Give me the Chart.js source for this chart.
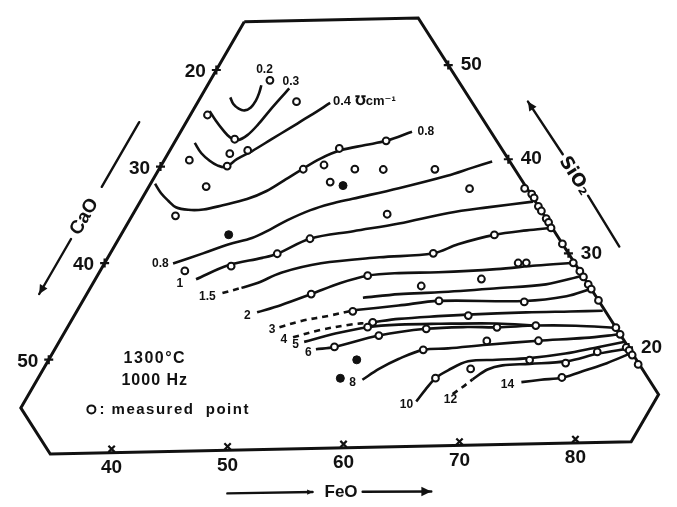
<!DOCTYPE html>
<html>
<head>
<meta charset="utf-8">
<script src="https://cdn.jsdelivr.net/npm/chart.js@4.4.1/dist/chart.umd.min.js"></script>
<style>
  html, body { margin: 0; padding: 0; background: #fff; }
</style>
</head>
<body>
<canvas id="chart" width="677" height="507"></canvas>
<script>
// CaO-SiO2-FeO section, 1300 C, 1000 Hz. Every composition is [FeO, SiO2] in wt%.

// measured points
const measuredOpen = [
  [35.2, 48.8], [38.6, 46.5], [31.5, 45.3], [35.1, 42.7], [35.4, 41.2], [36.8, 41.5], [35.8, 39.9],
  [32.2, 40.6], [35.0, 37.8], [33.8, 34.8], [42.6, 39.4], [44.2, 39.8], [47.1, 39.3], [49.6, 39.2],
  [54.1, 39.1], [44.7, 41.5], [48.4, 42.2], [45.6, 38.0], [52.2, 34.5], [37.4, 29.0], [41.2, 29.4],
  [44.6, 30.6], [46.7, 32.1], [58.2, 30.3], [53.6, 28.1], [58.8, 26.9], [49.6, 26.3], [61.1, 25.3],
  [54.1, 24.4], [56.4, 23.2], [56.2, 22.7], [57.6, 21.8], [61.4, 22.4], [54.3, 20.7], [62.2, 20.2],
  [64.7, 17.2], [58.1, 37.0], [62.6, 32.1], [66.1, 29.1], [66.8, 29.1], [63.7, 27.5], [68.6, 25.0],
  [64.4, 23.7], [67.5, 22.4], [70.8, 22.5], [67.3, 21.0], [71.8, 20.9], [72.0, 18.9], [75.3, 18.5],
  [77.5, 19.6], [67.3, 18.1], [75.7, 17.0],
  // along the FeO-SiO2 side
  [62.9, 36.9], [63.8, 36.3], [64.2, 35.9], [65.0, 35.0], [65.5, 34.5], [66.3, 33.7], [66.7, 33.3],
  [67.2, 32.7], [69.0, 31.0], [70.9, 29.0], [71.9, 28.1], [72.5, 27.5], [73.3, 26.7], [73.8, 26.2],
  [75.0, 25.0], [77.9, 22.1], [78.6, 21.4], [79.8, 20.0], [80.2, 19.7], [80.7, 19.2], [81.7, 18.2]
];
const measuredFilled = [[39.4, 32.7], [46.9, 37.6], [56.9, 19.3], [56.4, 17.4]];

// iso-conductivity lines
const iso02 = [[32.6, 47.1], [33.2, 46.4], [33.9, 45.9], [34.5, 45.7], [34.9, 46.0], [35.0, 46.7], [34.9, 47.5], [34.7, 48.3]];
const iso03 = [[31.5, 45.7], [32.5, 44.7], [33.6, 43.7], [34.6, 42.9], [35.4, 42.6], [36.0, 43.1], [36.4, 44.2], [36.7, 45.6], [37.0, 46.8], [37.3, 47.9]];
const iso04 = [[31.8, 42.4], [32.9, 41.3], [34.0, 40.5], [34.9, 40.0], [35.7, 39.8], [36.3, 40.6], [37.2, 41.4], [38.3, 42.6], [39.4, 43.8], [40.5, 45.0], [41.6, 46.3]];
const iso06 = [[30.4, 38.2], [31.4, 37.2], [32.4, 36.4], [33.4, 35.7], [34.6, 35.4], [35.9, 35.4], [37.4, 35.8], [39.2, 36.4], [40.5, 37.2], [41.6, 38.4], [42.4, 39.3], [43.6, 40.5], [44.9, 41.3], [46.8, 41.8], [48.4, 42.2], [50.2, 43.1]];
const iso08 = [[36.0, 29.8], [38.1, 30.8], [39.9, 31.7], [41.6, 32.3], [42.8, 33.2], [43.8, 34.1], [45.3, 35.1], [46.7, 35.7], [48.4, 36.2], [51.9, 37.2], [55.5, 38.4], [57.3, 39.2], [58.7, 39.8]];
const iso1 = [[38.8, 28.1], [40.9, 29.5], [43.5, 30.2], [44.6, 30.6], [46.7, 32.1], [50.1, 32.8], [53.7, 33.5], [57.5, 34.5], [60.6, 35.0], [64.3, 35.5]];
const iso15Dashed = [[41.8, 26.6], [43.2, 27.1]];
const iso15 = [[43.2, 27.1], [44.4, 27.6], [45.9, 28.6], [48.9, 29.5], [53.7, 30.0], [58.2, 30.3], [59.9, 31.2], [62.6, 32.1], [65.2, 32.5], [67.2, 32.7]];
const iso2 = [[45.8, 24.5], [47.5, 25.2], [49.6, 26.3], [51.6, 27.4], [53.6, 28.1], [56.2, 28.3], [59.6, 28.3], [64.5, 28.5], [67.8, 28.8], [70.9, 29.0]];
const isoUnlabelled = [[54.3, 25.8], [57.3, 26.1], [60.6, 26.2], [65.5, 26.5], [69.6, 26.8], [72.3, 27.6]];
const iso3Dashed = [[48.5, 22.9], [50.1, 23.5], [52.3, 24.0], [54.1, 24.5]];
const iso3 = [[54.1, 24.5], [57.8, 24.9], [61.1, 25.3], [68.6, 25.1], [72.0, 25.5], [73.7, 26.2]];
const iso4Dashed = [[50.2, 21.8], [52.2, 22.5], [54.5, 23.0], [56.4, 23.2]];
const iso4 = [[56.4, 23.2], [58.5, 23.5], [61.8, 23.7], [64.3, 23.8], [69.3, 23.9], [73.1, 23.9], [75.9, 23.9]];
const iso5 = [[51.4, 21.3], [53.7, 22.1], [56.2, 22.7], [58.8, 22.9], [62.2, 22.9], [67.3, 22.8], [70.8, 22.5]];
const iso6 = [[52.8, 20.5], [54.3, 20.7], [57.6, 21.8], [61.4, 22.4], [64.9, 22.5], [67.5, 22.4], [70.8, 22.5], [74.3, 22.4], [77.9, 22.1]];
const iso8 = [[58.4, 17.2], [59.3, 18.3], [60.5, 19.3], [62.2, 20.2], [64.3, 20.3], [67.5, 20.6], [71.8, 20.9], [75.7, 21.1], [78.6, 21.4]];
const iso10 = [[64.2, 14.8], [64.4, 16.0], [64.7, 17.2], [65.4, 18.0], [66.7, 18.9], [69.1, 19.0], [71.9, 19.1], [74.8, 19.5], [77.3, 20.1], [79.4, 20.6]];
const iso12Dashed = [[67.0, 15.5], [67.5, 16.2], [68.0, 17.0]];
const iso12 = [[68.0, 17.0], [68.8, 18.0], [69.9, 18.4], [72.2, 18.5], [75.3, 18.7], [77.6, 19.4], [80.1, 19.9]];
const iso14 = [[72.4, 16.6], [74.0, 16.8], [75.8, 17.0], [77.4, 17.7], [78.9, 18.4], [80.5, 19.4]];

const contourLabels = ['0.2', '0.3', '0.4 \u2127cm\u207B\u00B9', '0.8', '0.8', '1', '1.5', '2', '3', '4', '5', '6', '8', '10', '12', '14'];
const contourLabelAt = [[34.2, 49.9], [37.1, 48.6], [44.5, 46.4], [51.4, 43.1], [34.9, 29.8], [37.6, 27.7], [40.7, 26.2], [45.1, 24.2],
  [48.0, 22.6], [49.5, 21.6], [50.8, 21.0], [52.3, 20.2], [57.7, 16.9], [63.5, 14.5], [67.1, 14.9], [71.3, 16.4]];

// axis ticks
const caoTicks = [20, 30, 40, 50];   // on the FeO = 30 side
const sio2Ticks = [50, 40, 30, 20];  // on the CaO = 0 side
const feoTicks = [40, 50, 60, 70, 80]; // on the bottom side

const frameCorners = [[30, 55], [45, 55], [85, 15], [85, 10.1], [34.9, 10.1], [30, 15], [30, 55]];

// composition -> sheet plane (the scanned page is a little sheared and tilted)
const SHEAR = 0.4818, TILT = 0.0252;
function toPlane(c) { return { x: c[0] + SHEAR * c[1], y: c[1] + TILT * c[0] }; }

const ink = '#111';

function curve(pts, dashed) {
  return {
    data: pts.map(toPlane), showLine: true, borderColor: ink, borderWidth: 2.6,
    pointRadius: 0, tension: 0.35, borderDash: dashed ? [6, 5] : [], order: 3
  };
}
function ticks(pts, style) {
  return {
    data: pts.map(toPlane), pointStyle: style, pointRadius: 4.5, borderColor: ink,
    borderWidth: 2.2, backgroundColor: ink, order: 2
  };
}

const datasets = [
  { data: measuredOpen.map(toPlane), pointRadius: 3.4, borderWidth: 2, borderColor: ink, backgroundColor: '#fff', order: 0 },
  { data: measuredFilled.map(toPlane), pointRadius: 4, borderWidth: 1, borderColor: ink, backgroundColor: ink, order: 0 },
  { data: frameCorners.map(toPlane), showLine: true, borderColor: ink, borderWidth: 3, pointRadius: 0, tension: 0, order: 4 },
  ticks(caoTicks.map(v => [30, 70 - v]), 'cross'),
  ticks(sio2Ticks.map(v => [100 - v, v]), 'cross'),
  ticks(feoTicks.map(v => [v, 10.5]), 'crossRot'),
  curve(iso02), curve(iso03), curve(iso04), curve(iso06), curve(iso08), curve(iso1),
  curve(iso15Dashed, true), curve(iso15), curve(iso2), curve(isoUnlabelled),
  curve(iso3Dashed, true), curve(iso3), curve(iso4Dashed, true), curve(iso4),
  curve(iso5), curve(iso6), curve(iso8), curve(iso10), curve(iso12Dashed, true), curve(iso12), curve(iso14)
];

const sheet = {
  id: 'sheet',
  beforeDraw(chart) {
    const ctx = chart.ctx;
    ctx.save();
    ctx.fillStyle = '#fff';
    ctx.fillRect(0, 0, chart.width, chart.height);
    ctx.restore();
  },
  afterDatasetsDraw(chart) {
    const { ctx, scales } = chart;
    const px = c => { const p = toPlane(c); return [scales.x.getPixelForValue(p.x), scales.y.getPixelForValue(p.y)]; };

    function text(t, c, size, dx, dy, angle, spacing, align, family) {
      const [x, y] = px(c);
      ctx.save();
      ctx.translate(x + (dx || 0), y + (dy || 0));
      if (angle) ctx.rotate(angle);
      ctx.font = 'bold ' + size + 'px ' + (family || '"Liberation Sans", "DejaVu Sans", sans-serif');
      ctx.letterSpacing = spacing || '0px';
      ctx.textAlign = align || 'center';
      ctx.textBaseline = 'middle';
      ctx.fillText(t, 0, 0);
      ctx.restore();
    }
    function arrow(a, b, head) {
      const [x1, y1] = px(a), [x2, y2] = px(b);
      ctx.lineWidth = 2.4;
      ctx.beginPath(); ctx.moveTo(x1, y1); ctx.lineTo(x2, y2); ctx.stroke();
      if (head) {
        const t = Math.atan2(y2 - y1, x2 - x1);
        ctx.beginPath();
        ctx.moveTo(x2, y2);
        ctx.lineTo(x2 - head * Math.cos(t - 0.45), y2 - head * Math.sin(t - 0.45));
        ctx.lineTo(x2 - head * Math.cos(t + 0.45), y2 - head * Math.sin(t + 0.45));
        ctx.closePath(); ctx.fill();
      }
    }
    const angleOf = (a, b) => { const [x1, y1] = px(a), [x2, y2] = px(b); return Math.atan2(y2 - y1, x2 - x1); };

    ctx.save();
    ctx.fillStyle = ink; ctx.strokeStyle = ink; ctx.lineCap = 'round';

    // tick labels
    caoTicks.forEach(v => text(String(v), [30, 70 - v], 19, -21, 2));
    sio2Ticks.forEach(v => text(String(v), [100 - v, v], 19, 23, 0));
    feoTicks.forEach(v => text(String(v), [v, 10.5], 19, 0, 19));

    // contour labels
    contourLabels.forEach((t, i) => text(t, contourLabelAt[i], i === 2 ? 13 : 12));

    // axis names with arrows
    const leftAngle = angleOf([30, 15], [30, 55]);
    arrow([25.9, 44.7], [25.9, 38.0]);
    text('CaO', [25.9, 34.9], 19, 0, 0, leftAngle);
    arrow([25.85, 32.6], [25.85, 26.9], 10);

    const rightAngle = angleOf([45, 55], [85, 15]);
    arrow([64.5, 40.4], [58.8, 46.0], 10);
    text('SiO\u2082', [66.6, 38.1], 18, 0, 0, rightAngle, '0px', 'center', '"DejaVu Sans", sans-serif');
    arrow([68.8, 36.0], [74.1, 30.6]);

    arrow([52.35, 5.58], [59.72, 5.54], 6);
    text('FeO', [62.2, 5.49], 17);
    arrow([64.08, 5.45], [70.06, 5.33], 11);

    // conditions and key
    text('1300\u00B0C', [39.2, 19.9], 16, 0, 0, 0, '1.5px');
    text('1000 Hz', [40.3, 17.6], 16, 0, 0, 0, '1px');
    const [kx, ky] = px([35.8, 14.7]);
    ctx.lineWidth = 2;
    ctx.beginPath(); ctx.arc(kx + 5, ky, 4, 0, Math.PI * 2); ctx.stroke();
    text(': measured  point', [35.8, 14.7], 15, 13, 0, 0, '1.5px', 'left');
    ctx.restore();
  }
};

new Chart(document.getElementById('chart'), {
  type: 'scatter',
  data: { datasets },
  options: {
    responsive: false,
    animation: false,
    devicePixelRatio: 1,
    layout: { padding: 0 },
    plugins: { legend: { display: false }, tooltip: { enabled: false } },
    scales: {
      x: { type: 'linear', display: false, min: 36.01, max: 93.24 },
      y: { type: 'linear', display: false, min: 6.186, max: 57.311 }
    }
  },
  plugins: [sheet]
});
</script>
</body>
</html>
